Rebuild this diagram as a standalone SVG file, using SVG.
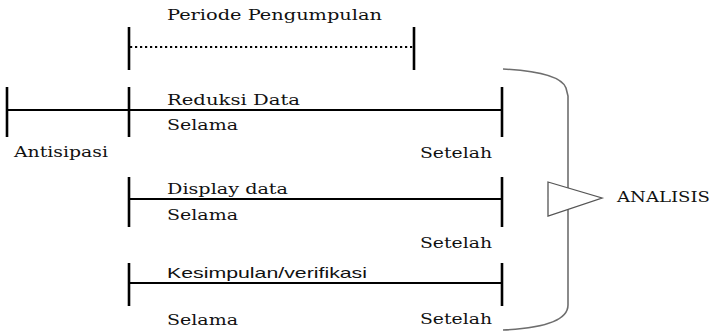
<svg xmlns="http://www.w3.org/2000/svg" width="715" height="332" viewBox="0 0 715 332">
<style>
.t{font-family:"DejaVu Serif","Liberation Serif",serif;font-size:15px;fill:#111}
.sans{font-family:"Liberation Sans",Arial,sans-serif;font-size:15px;fill:#111}
.ln{stroke:#000;stroke-width:2;fill:none}
.tk{stroke:#000;stroke-width:2.6;fill:none}
.br{stroke:#6e6e6e;stroke-width:1.6;fill:none}
</style>
<rect width="715" height="332" fill="#fff"/>
<g id="connectors">
<line class="tk" x1="129" y1="27" x2="129" y2="70"/>
<line class="ln" x1="130" y1="47" x2="413" y2="47" stroke-dasharray="2.2 2.8" stroke-width="2"/>
<line class="tk" x1="414" y1="27" x2="414" y2="70"/>
<line class="tk" x1="7" y1="87" x2="7" y2="137"/>
<line class="tk" x1="129" y1="87" x2="129" y2="137"/>
<line class="ln" x1="7" y1="110" x2="502" y2="110"/>
<line class="tk" x1="502" y1="87" x2="502" y2="137"/>
<line class="tk" x1="129" y1="177" x2="129" y2="227"/>
<line class="ln" x1="129" y1="199" x2="502" y2="199"/>
<line class="tk" x1="502" y1="177" x2="502" y2="227"/>
<line class="tk" x1="129" y1="263" x2="129" y2="306"/>
<line class="ln" x1="129" y1="283" x2="502" y2="283"/>
<line class="tk" x1="502" y1="263" x2="502" y2="306"/>
<path class="br" d="M503 69 Q560 72 566 88 L568 96 L568 305 Q568 327 503 330"/>
</g>
<g id="periode"><text class="t" x="167" y="20" textLength="215" lengthAdjust="spacingAndGlyphs">Periode Pengumpulan</text></g>
<g id="reduksi">
<text class="t" x="167" y="105" textLength="133" lengthAdjust="spacingAndGlyphs">Reduksi Data</text>
<text class="t" x="167" y="130" textLength="71" lengthAdjust="spacingAndGlyphs">Selama</text>
<text class="t" x="14" y="157" textLength="94" lengthAdjust="spacingAndGlyphs">Antisipasi</text>
<text class="t" x="420" y="158" textLength="72" lengthAdjust="spacingAndGlyphs">Setelah</text>
</g>
<g id="display">
<text class="t" x="167" y="194" textLength="121" lengthAdjust="spacingAndGlyphs">Display data</text>
<text class="t" x="167" y="220" textLength="71" lengthAdjust="spacingAndGlyphs">Selama</text>
<text class="t" x="420" y="248" textLength="72" lengthAdjust="spacingAndGlyphs">Setelah</text>
</g>
<g id="kesimpulan">
<text class="sans" x="167" y="278" textLength="200" lengthAdjust="spacingAndGlyphs">Kesimpulan/verifikasi</text>
<text class="t" x="167" y="325" textLength="71" lengthAdjust="spacingAndGlyphs">Selama</text>
<text class="t" x="420" y="324" textLength="72" lengthAdjust="spacingAndGlyphs">Setelah</text>
</g>
<g id="analisis">
<polygon points="548,182 602,198 548,216" fill="#fff" stroke="#555" stroke-width="1.3"/>
<text class="t" x="617" y="202" textLength="93" lengthAdjust="spacingAndGlyphs">ANALISIS</text>
</g>
</svg>
